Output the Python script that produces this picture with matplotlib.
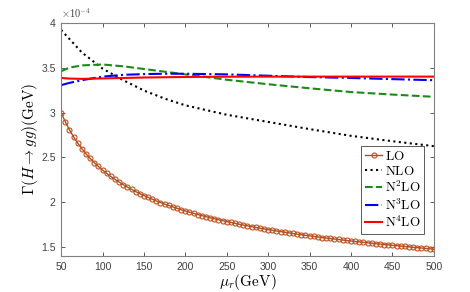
import numpy as np
import matplotlib
matplotlib.use('Agg')
from matplotlib import pyplot as plt

plt.rcParams['font.family'] = ['Liberation Sans', 'DejaVu Sans']
plt.rcParams['mathtext.fontset'] = 'cm'

# LO, sampled every 5 GeV (markers)
mu_lo = list(range(50, 505, 5))
lo = [3.000, 2.898, 2.808, 2.730, 2.660, 2.598, 2.541, 2.489, 2.442, 2.399,
      2.359, 2.322, 2.287, 2.255, 2.225, 2.196, 2.169, 2.144, 2.119, 2.096,
      2.075, 2.054, 2.034, 2.015, 1.997, 1.980, 1.964, 1.948, 1.932, 1.917,
      1.903, 1.889, 1.876, 1.863, 1.851, 1.839, 1.827, 1.816, 1.805, 1.795,
      1.785, 1.775, 1.765, 1.755, 1.746, 1.737, 1.728, 1.719, 1.711, 1.703,
      1.695, 1.688, 1.680, 1.673, 1.666, 1.659, 1.652, 1.645, 1.638, 1.632,
      1.625, 1.619, 1.613, 1.607, 1.601, 1.596, 1.590, 1.585, 1.579, 1.574,
      1.568, 1.563, 1.558, 1.553, 1.548, 1.543, 1.538, 1.534, 1.529, 1.525,
      1.520, 1.516, 1.511, 1.507, 1.503, 1.498, 1.494, 1.490, 1.486, 1.482,
      1.476]

# higher orders
mu = [50, 60, 75, 100, 125, 150, 175, 200, 250, 300, 350, 400, 450, 500]
nlo = [3.92, 3.82, 3.67, 3.49, 3.36, 3.245, 3.155, 3.08, 2.975, 2.895, 2.815, 2.74, 2.68, 2.625]
n2lo = [3.46, 3.50, 3.525, 3.535, 3.515, 3.485, 3.455, 3.425, 3.365, 3.315, 3.27, 3.228, 3.20, 3.175]
n3lo = [3.305, 3.33, 3.36, 3.40, 3.42, 3.428, 3.432, 3.432, 3.425, 3.41, 3.395, 3.385, 3.372, 3.36]
n4lo = [3.385, 3.378, 3.375, 3.38, 3.385, 3.39, 3.393, 3.396, 3.399, 3.40, 3.40, 3.40, 3.40, 3.40]

fig = plt.figure(figsize=(4.7, 2.92), dpi=100)
ax = fig.add_axes([0.130, 0.123, 0.793, 0.799])

ax.plot(mu_lo, lo, color='#a0522d', lw=1.0, marker='o', ms=3.6, mfc='none',
        mec='#c0501c', mew=0.8, label=r'$\mathrm{LO}$')
ax.plot(mu, nlo, color='black', ls=':', lw=1.5, label=r'$\mathrm{NLO}$')
ax.plot(mu, n2lo, color='#1a8a1a', ls='--', lw=1.5, label=r'$\mathrm{N^2LO}$')
ax.plot(mu, n3lo, color='blue', ls='-.', lw=1.5, label=r'$\mathrm{N^3LO}$')
ax.plot(mu, n4lo, color='red', ls='-', lw=1.5, label=r'$\mathrm{N^4LO}$')

ax.set_xlim(50, 500)
ax.set_ylim(1.4, 4.0)
ax.set_xticks(range(50, 501, 50))
ax.set_yticks([1.5, 2, 2.5, 3, 3.5, 4])
ax.set_yticklabels(['1.5', '2', '2.5', '3', '3.5', '4'])
ax.tick_params(direction='in', top=True, right=True, length=3, width=0.6,
               labelsize=7.5, colors='#404040', pad=4)
for s in ax.spines.values():
    s.set_color('#808080')
    s.set_linewidth(0.8)

ax.set_xlabel(r'$\mu_r(\mathrm{GeV})$', fontsize=11, labelpad=0)
ax.set_ylabel(r'$\Gamma(H\rightarrow gg)(\mathrm{GeV})$', fontsize=11, labelpad=1)
ax.text(0.0, 1.01, r'$\times10^{-4}$', transform=ax.transAxes, fontsize=7.5,
        color='#404040', ha='left', va='bottom', family='DejaVu Sans')

leg = ax.legend(loc='lower right', bbox_to_anchor=(0.975, 0.095), fontsize=9.5,
                handlelength=1.3, handletextpad=0.2, labelspacing=0.15,
                borderpad=0.3, borderaxespad=0, fancybox=False, framealpha=1)
leg.get_frame().set_edgecolor('#404040')
leg.get_frame().set_linewidth(0.6)

fig.savefig('out.png', dpi=100)
